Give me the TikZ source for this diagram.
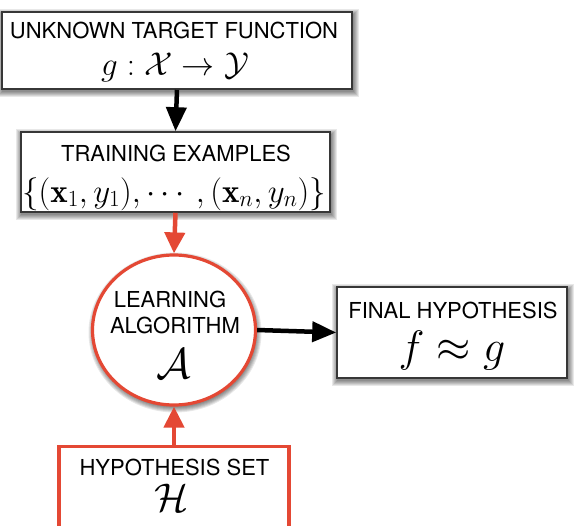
\documentclass[tikz,border=0pt]{standalone}
\usepackage{fix-cm}
\usepackage{amsmath}
\usepackage{fontspec}
\setsansfont{TeX Gyre Heros}
\usetikzlibrary{shapes.geometric,arrows.meta,backgrounds}
\definecolor{redline}{RGB}{228,72,52}
\definecolor{boxline}{RGB}{55,55,55}
\begin{document}
\begin{tikzpicture}[x=1pt,y=-1pt,
  bx/.style={draw=boxline,line width=1.6pt,fill=white,rectangle,inner sep=0pt},
  redbx/.style={draw=redline,line width=3.2pt,fill=white,rectangle,inner sep=0pt},
  redcirc/.style={draw=redline,line width=3.2pt,fill=white,ellipse,inner sep=0pt},
  shadowlayer/.style={fill=black,opacity=0.09},
  lab/.style={anchor=base,inner sep=0pt,font=\sffamily\fontsize{22}{26}\selectfont},
  mth/.style={anchor=base,inner sep=0pt,font=\fontsize{33}{38}\selectfont},
  blkarrow/.style={draw=black,line width=4.5pt,-{Triangle[length=24pt,width=20pt]}},
  redarrow/.style={draw=redline,line width=4.5pt,-{Triangle[length=21pt,width=20pt]}}]
\useasboundingbox (0,0) rectangle (578,525);

\node[bx, minimum width=350pt, minimum height=77pt] (target) at (177,50.5) {};
\node[lab] (targetlab) at (174,38) {UNKNOWN TARGET FUNCTION};
\node[mth] (targetmath) at (175,75) {$g:\mathcal{X}\to\mathcal{Y}$};

\node[bx, minimum width=309pt, minimum height=80pt] (train) at (175.5,172) {};
\node[lab] (trainlab) at (176,161) {TRAINING EXAMPLES};
\node[mth] (trainmath) at (174,202) {$\{(\mathbf{x}_1,y_1),\cdots,(\mathbf{x}_n,y_n)\}$};

\node[redcirc, minimum width=163pt, minimum height=150pt] (alg) at (174,330) {};
\node[lab] (alglab1) at (170,307) {LEARNING};
\node[lab] (alglab2) at (175,333) {ALGORITHM};
\node[anchor=base,inner sep=0pt,font=\fontsize{43}{48}\selectfont] (algmath) at (174,378) {$\mathcal{A}$};

\node[bx, minimum width=230pt, minimum height=91pt] (final) at (452,332.5) {};
\node[lab] (finallab) at (453,318) {FINAL HYPOTHESIS};
\node[anchor=base,inner sep=0pt,font=\fontsize{44}{50}\selectfont] (finalmath) at (452,361) {$f\approx g$};

\node[redbx, minimum width=230pt, minimum height=95pt, anchor=north] (hyp) at (174,445) {};
\node[lab] (hyplab) at (174.5,475) {HYPOTHESIS SET};
\node[anchor=base,inner sep=0pt,font=\fontsize{40}{46}\selectfont] (hypmath) at (172,511) {$\mathcal{H}$};

\draw[blkarrow] (target.south) -- (train.north);
\draw[redarrow] (train.south) -- (alg.north);
\draw[blkarrow] (alg.east) -- (final.west);
\draw[redarrow] (hyp.north) -- (alg.south);

\begin{scope}[on background layer]
  \fill[white] (0,0) rectangle (578,525);
  \foreach \n in {target,train,final}{
    \foreach \k in {0,...,5}{
      \fill[shadowlayer] ([xshift=1pt-\k*1pt,yshift=-2.5pt+\k*1pt]\n.north west)
        rectangle ([xshift=1pt+\k*1pt,yshift=-2.5pt-\k*1pt]\n.south east);
    }
  }
  \foreach \k in {0,...,5}{
    \fill[shadowlayer] ([xshift=1pt,yshift=-2.5pt]alg.center) ellipse [x radius=81.5+\k, y radius=75+\k];
  }
\end{scope}
\end{tikzpicture}
\end{document}
